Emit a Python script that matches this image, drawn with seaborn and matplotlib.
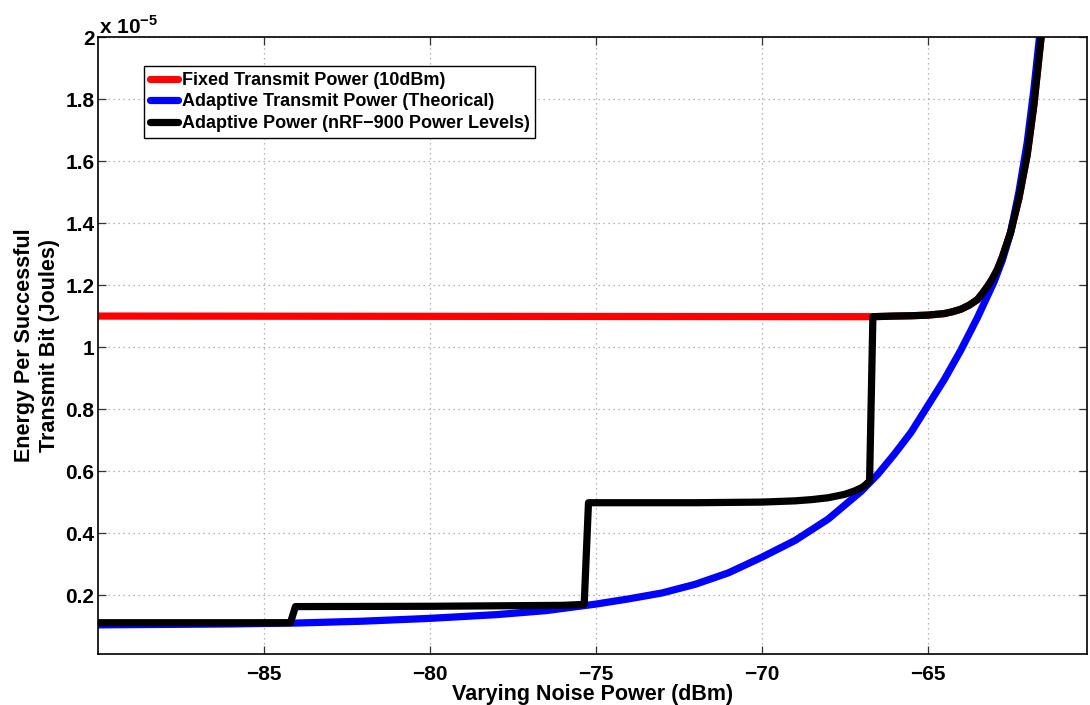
import matplotlib
matplotlib.use("Agg")
import matplotlib.pyplot as plt
import seaborn as sns
import pandas as pd
from matplotlib.ticker import FuncFormatter

# Noise power (dBm) and energy per successful bit (units of 1e-5 J)
noise_fixed = [-90, -66.65, -66.0, -65.5, -65.0, -64.5, -64.25, -64.0, -63.75,
               -63.5, -63.35, -63.2, -63.05, -62.9, -62.75, -62.5, -62.25,
               -62.0, -61.8, -61.58]
energy_fixed = [1.10, 1.098, 1.100, 1.101, 1.103, 1.108, 1.114, 1.122, 1.135,
                1.153, 1.173, 1.195, 1.22, 1.25, 1.29, 1.37, 1.48, 1.62,
                1.78, 2.0]

noise_theory = [-90, -86, -84, -82, -80, -78, -76.5, -75, -74, -73, -72, -71,
                -70, -69, -68, -67, -66.5, -66, -65.5, -65, -64.5, -64,
                -63.5, -63, -62.75, -62.5, -62.25, -62, -61.8, -61.63]
energy_theory = [0.104, 0.107, 0.110, 0.116, 0.125, 0.137, 0.150, 0.171,
                 0.188, 0.207, 0.235, 0.272, 0.322, 0.376, 0.445, 0.535,
                 0.590, 0.655, 0.725, 0.810, 0.895, 0.990, 1.095, 1.21,
                 1.28, 1.37, 1.50, 1.66, 1.83, 2.0]

noise_levels = [-90, -84.2, -84.05, -80, -76, -75.35, -75.22, -72, -70, -69,
                -68.5, -68, -67.5, -67.2, -67.0, -66.9, -66.75, -66.65,
                -66.0, -65.5, -65.0, -64.5, -64.25, -64.0, -63.75, -63.5,
                -63.35, -63.2, -63.05, -62.9, -62.75, -62.5, -62.25, -62.0,
                -61.8, -61.58]
energy_levels = [0.111, 0.111, 0.163, 0.164, 0.167, 0.170, 0.498, 0.498,
                 0.500, 0.504, 0.508, 0.514, 0.525, 0.536, 0.546, 0.553,
                 0.568, 1.098, 1.100, 1.101, 1.103, 1.108, 1.114, 1.122,
                 1.135, 1.153, 1.173, 1.195, 1.22, 1.25, 1.29, 1.37, 1.48,
                 1.62, 1.78, 2.0]

series_names = ["Fixed Transmit Power (10dBm)",
                "Adaptive Transmit Power (Theorical)",
                "Adaptive Power (nRF\u2212900 Power Levels)"]
series_colors = ["#ff0000", "#0000ff", "#000000"]

x_ticks = [-85, -80, -75, -70, -65]
y_ticks = [0.2, 0.4, 0.6, 0.8, 1.0, 1.2, 1.4, 1.6, 1.8, 2.0]

frames = []
for name, xs, ys in zip(series_names,
                        [noise_fixed, noise_theory, noise_levels],
                        [energy_fixed, energy_theory, energy_levels]):
    frames.append(pd.DataFrame({"noise": xs, "energy": ys, "series": name}))
df = pd.concat(frames, ignore_index=True)

sns.set_theme(style="white")
plt.rcParams["font.family"] = ["Liberation Sans", "DejaVu Sans"]
plt.rcParams["font.weight"] = "bold"
plt.rcParams["mathtext.fontset"] = "custom"
plt.rcParams["mathtext.rm"] = "Liberation Sans:bold"
plt.rcParams["mathtext.bf"] = "Liberation Sans:bold"
for key in ["text.color", "axes.labelcolor", "xtick.color", "ytick.color"]:
    plt.rcParams[key] = "black"

fig = plt.figure(figsize=(10.9, 7.05), dpi=100)
ax = fig.add_axes([0.0899, 0.0723, 0.9073, 0.8752])

sns.lineplot(data=df, x="noise", y="energy", hue="series",
             hue_order=series_names, palette=dict(zip(series_names, series_colors)),
             estimator=None, sort=False, linewidth=5.2, ax=ax, legend=True)
for ln in ax.get_lines():
    ln.set_solid_joinstyle("round")

ax.set_xlim(-90, -60.2)
ax.set_ylim(0.01, 2.0)
ax.set_xticks(x_ticks)
ax.set_yticks(y_ticks)
ax.yaxis.set_major_formatter(FuncFormatter(lambda v, p: f"{v:g}"))
ax.xaxis.set_major_formatter(FuncFormatter(lambda v, p: f"{v:g}".replace("-", "\u2212")))

ax.grid(True, color="#a0a0a0", linestyle=(0, (1, 3)), linewidth=0.9)
ax.set_axisbelow(True)
for side in ["top", "bottom", "left", "right"]:
    ax.spines[side].set_visible(True)
    ax.spines[side].set_color("black")
    ax.spines[side].set_linewidth(1.2)
ax.tick_params(axis="both", which="major", direction="in", length=6,
               width=0.9, color="#333333", labelsize=15, top=True, right=True,
               bottom=True, left=True, labelcolor="black")
ax.tick_params(axis="x", pad=8)
ax.tick_params(axis="y", pad=2.5)
for lab in ax.get_xticklabels() + ax.get_yticklabels():
    lab.set_fontweight("bold")

ax.set_xlabel("Varying Noise Power (dBm)", fontsize=15.5, fontweight="bold", labelpad=0)
ax.set_ylabel("Energy Per Successful\nTransmit Bit (Joules)", fontsize=15.5,
              fontweight="bold", linespacing=1.25, ha="center")
ax.yaxis.set_label_coords(-0.038, 0.5)

ax.text(0.0015, 1.006, r"x 10$^{\mathbf{-5}}$", transform=ax.transAxes,
        fontsize=15, fontweight="bold", ha="left", va="baseline")

handles, labels = ax.get_legend_handles_labels()
leg = ax.legend(handles, labels, loc="upper left", bbox_to_anchor=(0.0465, 0.953),
                borderaxespad=0, fontsize=13, frameon=True, fancybox=False,
                framealpha=1, edgecolor="black", handlelength=1.55,
                handletextpad=0.2, labelspacing=0.25, borderpad=0.33)
leg.get_frame().set_linewidth(1.0)
for t in leg.get_texts():
    t.set_fontweight("bold")
for h in leg.get_lines():
    h.set_linewidth(5.2)

fig.savefig("out.png", dpi=100)
